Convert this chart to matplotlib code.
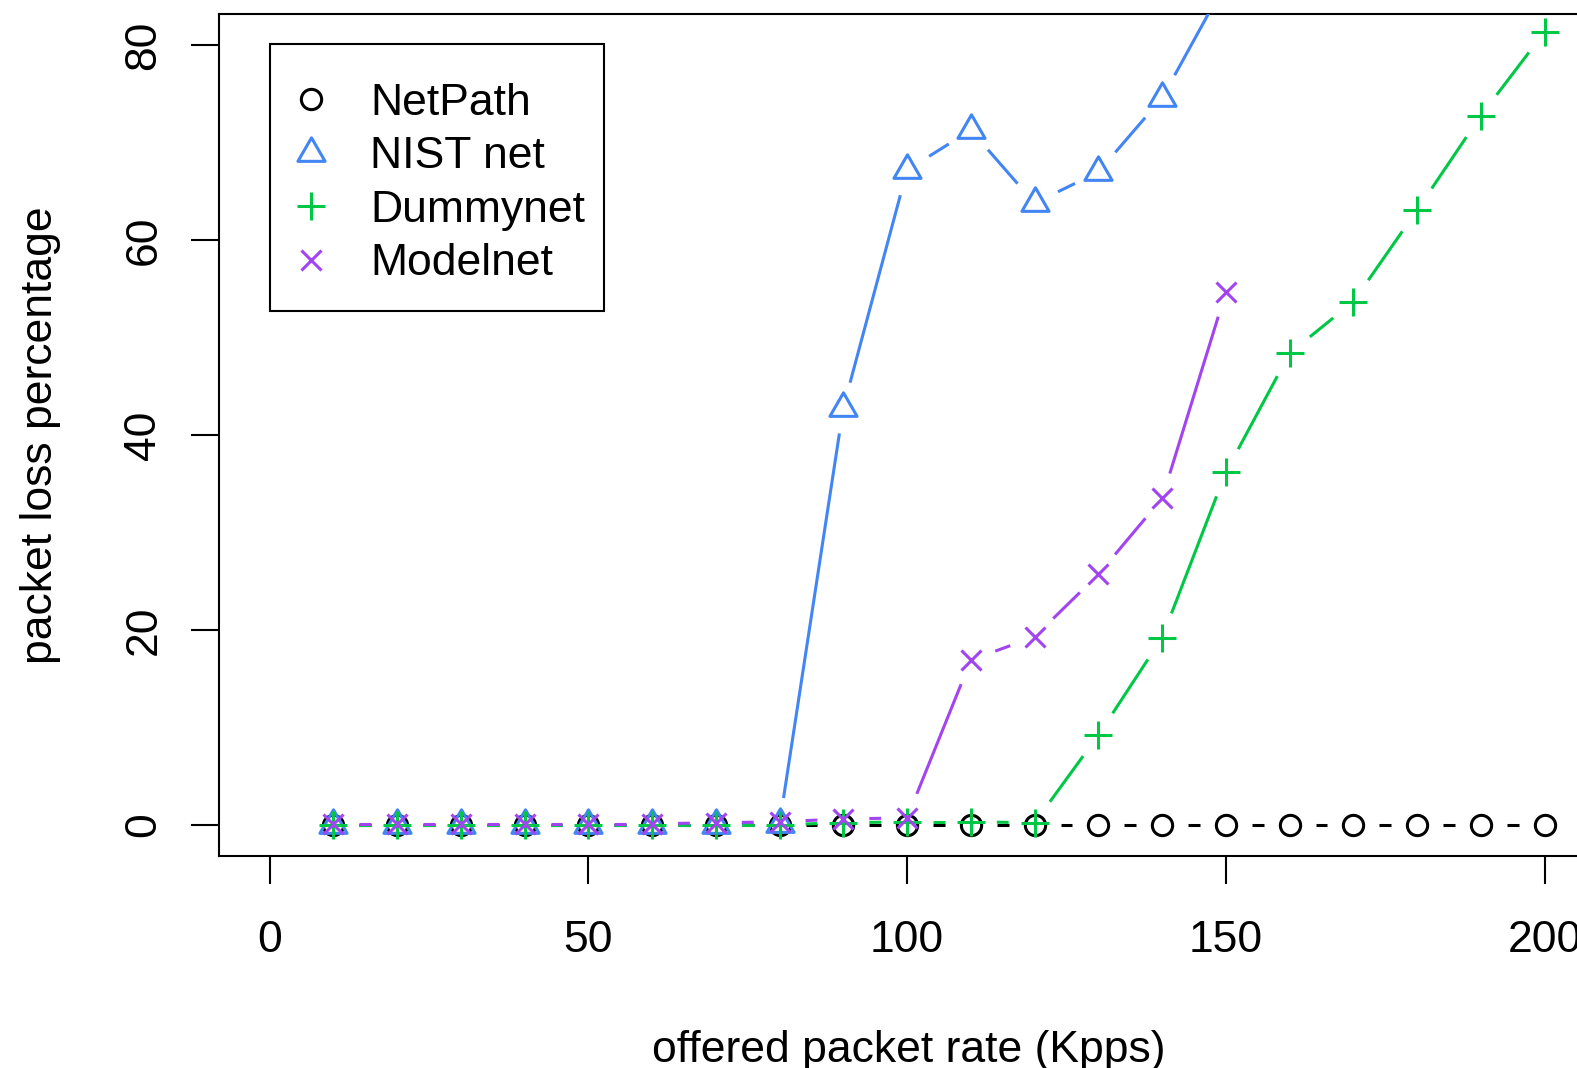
import matplotlib
matplotlib.use("Agg")
import matplotlib.pyplot as plt
import numpy as np
from matplotlib.path import Path
from matplotlib.lines import Line2D
from matplotlib.patches import Rectangle

# ---------------- data ----------------
rate = [10, 20, 30, 40, 50, 60, 70, 80, 90, 100,
        110, 120, 130, 140, 150, 160, 170, 180, 190, 200]
netpath = [0, 0, 0, 0, 0, 0, 0, 0, 0, 0,
           0, 0, 0, 0, 0, 0, 0, 0, 0, 0]
nist_rate = [10, 20, 30, 40, 50, 60, 70, 80, 90, 100, 110, 120, 130, 140, 150]
nistnet = [0, 0, 0, 0, 0, 0, 0, 0.1, 42.8, 67.2, 71.3, 63.8, 67.0, 74.6, 86.5]
dummynet = [0, 0, 0, 0, 0, 0, 0, 0, 0.2, 0.3,
            0.3, 0.2, 9.2, 19.2, 36.2, 48.4, 53.7, 63.1, 72.8, 81.4]
model_rate = [10, 20, 30, 40, 50, 60, 70, 80, 90, 100, 110, 120, 130, 140, 150]
modelnet = [0.1, 0.1, 0.1, 0.1, 0.1, 0.1, 0.2, 0.3, 0.6, 0.7, 16.9, 19.3, 25.7, 33.5, 54.7]

labels = ["NetPath", "NIST net", "Dummynet", "Modelnet"]
xticks = [0, 50, 100, 150, 200]
yticks = [0, 20, 40, 60, 80]

# ---------------- style ----------------
FS = 32
plt.rcParams["font.family"] = ["Liberation Sans", "DejaVu Sans"]
C_BLACK = "black"
C_BLUE = "#4285F4"
C_GREEN = "#00C846"
C_PURPLE = "#A244F0"
LW = 2.2
GAP = 26  # px gap around points (R type="b")

tri = Path([(-1.347, -0.7776), (1.347, -0.7776), (0, 1.555), (-1.347, -0.7776)],
           [Path.MOVETO, Path.LINETO, Path.LINETO, Path.CLOSEPOLY])

W, H = 1577, 1068
AX_L, AX_R, AX_T, AX_B = 218.5, 1595.7, 14.2, 855.9
fig = plt.figure(figsize=(W / 100, H / 100), dpi=100)
ax = fig.add_axes([AX_L / W, (H - AX_B) / H, (AX_R - AX_L) / W, (AX_B - AX_T) / H])
ax.set_xlim(-8, 208)
ax.set_ylim(-3.2, 83.2)

for s in ax.spines.values():
    s.set_linewidth(1.5)
ax.set_xticks(xticks)
ax.set_yticks(yticks)
ax.tick_params(direction="out", length=20, width=1.5, labelsize=FS)
ax.tick_params(axis="x", pad=26)
ax.tick_params(axis="y", pad=19)
for t in ax.get_yticklabels():
    t.set_rotation(90)
    t.set_va("center")


def draw_b(xs, ys, color, marker, ms, z):
    pts = ax.transData.transform(np.column_stack([xs, ys]))
    inv = ax.transData.inverted()
    for p0, p1 in zip(pts[:-1], pts[1:]):
        d = p1 - p0
        L = np.hypot(d[0], d[1])
        if L <= 2 * GAP:
            continue
        u = d / L
        seg = inv.transform(np.array([p0 + u * GAP, p1 - u * GAP]))
        ax.plot(seg[:, 0], seg[:, 1], color=color, lw=LW,
                solid_capstyle="butt", zorder=z)
    ax.plot(xs, ys, ls="none", marker=marker, ms=ms, mew=LW,
            mec=color, mfc="none", zorder=z + 0.5)


draw_b(rate, netpath, C_BLACK, "o", 14.6, 2)
draw_b(nist_rate, nistnet, C_BLUE, tri, 22.6, 3)
draw_b(rate, dummynet, C_GREEN, "+", 20.2, 4)
draw_b(model_rate, modelnet, C_PURPLE, "x", 14.6, 5)

handles = [
    Line2D([], [], ls="none", marker="o", ms=14.6, mew=LW, mec=C_BLACK, mfc="none"),
    Line2D([], [], ls="none", marker=tri, ms=22.6, mew=LW, mec=C_BLUE, mfc="none"),
    Line2D([], [], ls="none", marker="+", ms=20.2, mew=LW, mec=C_GREEN, mfc="none"),
    Line2D([], [], ls="none", marker="x", ms=14.6, mew=LW, mec=C_PURPLE, mfc="none"),
]
axw, axh = AX_R - AX_L, AX_B - AX_T
leg = ax.legend(handles, labels, loc="upper left",
                bbox_to_anchor=((269.5 - AX_L) / axw, (AX_B - 50.5) / axh),
                borderaxespad=0, borderpad=0.725, handlelength=0.4,
                handletextpad=1.14, labelspacing=0.28, fontsize=FS,
                frameon=False)
# legend frame (R style box)
fx0, fx1, fy0, fy1 = 269.5, 604.4, 44.3, 310.8
ax.add_patch(Rectangle(((fx0 - AX_L) / axw, (AX_B - fy1) / axh),
                       (fx1 - fx0) / axw, (fy1 - fy0) / axh,
                       transform=ax.transAxes, fill=False, lw=1.5,
                       edgecolor="black", zorder=10))

fig.text(909 / W, (H - 1062) / H, "offered packet rate (Kpps)", fontsize=FS,
         ha="center", va="baseline")
fig.text(52 / W, (H - 435) / H, "packet loss percentage", fontsize=FS,
         rotation=90, rotation_mode="anchor", ha="center", va="baseline")

fig.savefig("out.png", dpi=100)
